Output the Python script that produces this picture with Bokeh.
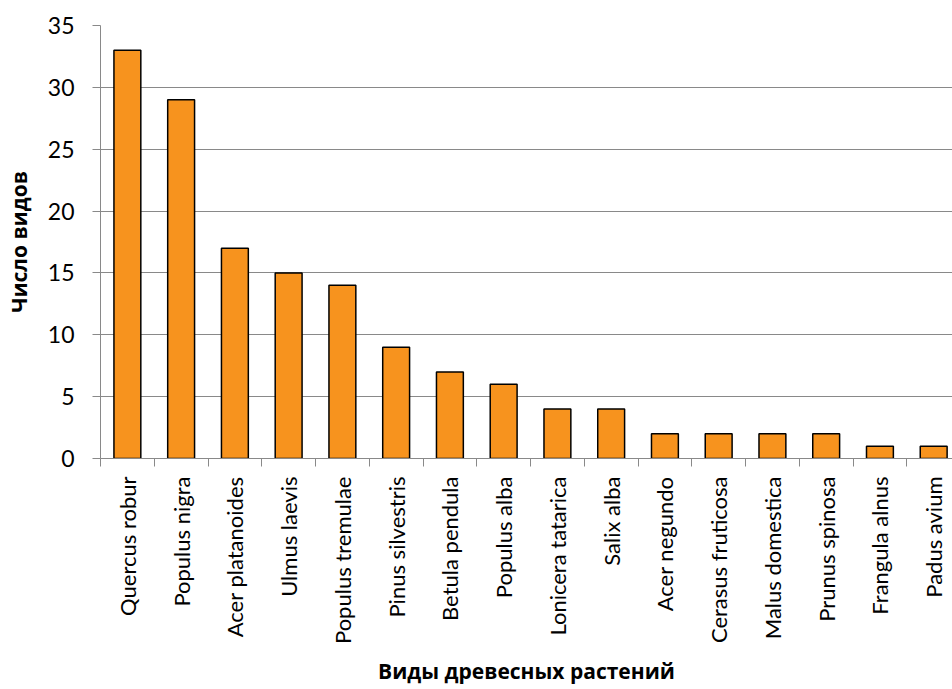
import math
from bokeh.plotting import figure
from bokeh.models import Range1d, FixedTicker
from bokeh.embed import file_html
from bokeh.resources import INLINE

species = ["Quercus robur", "Populus nigra", "Acer platanoides", "Ulmus laevis",
           "Populus tremulae", "Pinus silvestris", "Betula pendula", "Populus alba",
           "Lonicera tatarica", "Salix alba", "Acer negundo", "Cerasus fruticosa",
           "Malus domestica", "Prunus spinosa", "Frangula alnus", "Padus avium"]
counts = [33, 29, 17, 15, 14, 9, 7, 6, 4, 4, 2, 2, 2, 2, 1, 1]
y_ticks = [0, 5, 10, 15, 20, 25, 30, 35]

FONT = "Lato"
TFONT = "Open Sans"
centers = [i + 0.5 for i in range(len(species))]
bounds = list(range(len(species) + 1))

p = figure(width=952, height=689, output_backend="svg", toolbar_location=None,
           x_range=Range1d(0, 15.85), y_range=Range1d(0, 35),
           min_border_left=100, min_border_right=0, min_border_top=25,
           min_border_bottom=231)
p.outline_line_color = None
p.background_fill_color = "white"

p.vbar(x=centers, top=counts, width=0.5, bottom=0,
       fill_color="#F7931E", line_color="black", line_width=1.5)

p.xaxis.ticker = FixedTicker(ticks=centers, minor_ticks=bounds)
p.xaxis.major_label_overrides = {c: s for c, s in zip(centers, species)}
p.xaxis.major_label_orientation = math.pi / 2
p.xaxis.major_tick_line_color = None
p.xaxis.minor_tick_in = 0
p.xaxis.minor_tick_out = 8
p.xaxis.minor_tick_line_color = "#898989"
p.xaxis.axis_line_color = "#898989"
p.xaxis.major_label_standoff = 10
p.xaxis.major_label_text_font = FONT
p.xaxis.major_label_text_font_size = "22px"
p.xaxis.major_label_text_color = "black"
p.xaxis.axis_label = "Виды древесных растений"
p.xaxis.axis_label_text_font = TFONT
p.xaxis.axis_label_text_font_style = "bold"
p.xaxis.axis_label_text_font_size = "21px"
p.xaxis.axis_label_text_color = "black"
p.xaxis.axis_label_standoff = 10

p.yaxis.ticker = FixedTicker(ticks=y_ticks, minor_ticks=[])
p.yaxis.major_tick_in = 0
p.yaxis.major_tick_out = 8
p.yaxis.major_tick_line_color = "#898989"
p.yaxis.axis_line_color = "#898989"
p.yaxis.major_label_text_font = FONT
p.yaxis.major_label_text_font_size = "23px"
p.yaxis.major_label_text_color = "black"
p.yaxis.major_label_standoff = 18
p.yaxis.axis_label = "Число видов"
p.yaxis.axis_label_text_font = TFONT
p.yaxis.axis_label_text_font_style = "bold"
p.yaxis.axis_label_text_font_size = "21px"
p.yaxis.axis_label_text_color = "black"
p.yaxis.axis_label_standoff = 12

p.xgrid.grid_line_color = None
p.ygrid.grid_line_color = "#898989"
p.ygrid.grid_line_width = 1

open("out.html", "w").write(file_html(p, INLINE))
